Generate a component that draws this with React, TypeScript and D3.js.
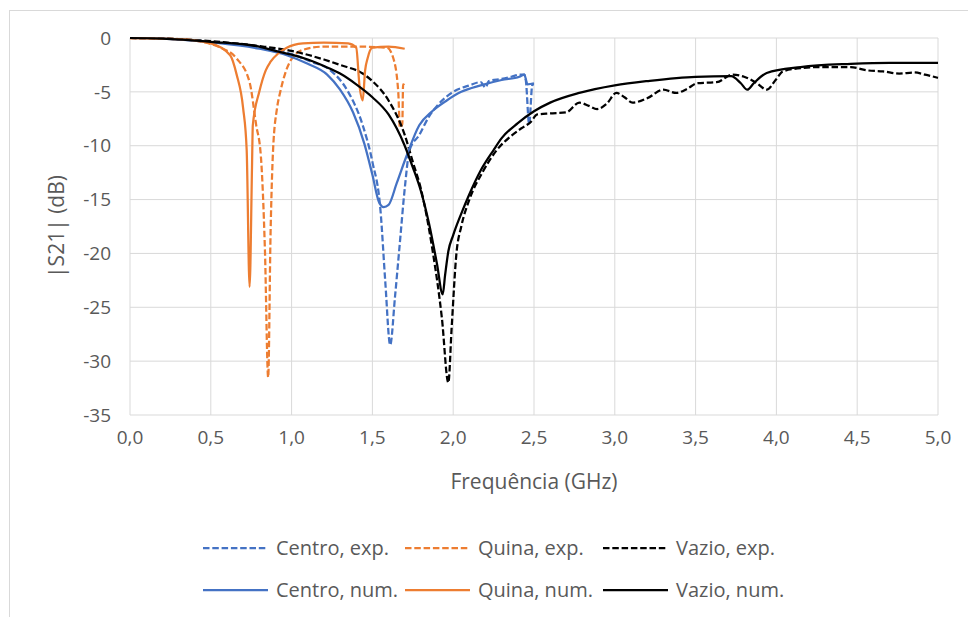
import React from "react";
import * as d3 from "d3";

type Pt = [number, number];

// Frequency (GHz), |S21| (dB)
const centroExp: Pt[] = [
  [0, 0], [0.2, -0.05], [0.5, -0.35], [0.8, -0.9], [1.0, -1.5], [1.12, -2.2], [1.24, -3.0], [1.35, -5.0],
  [1.44, -8.1], [1.5, -11.5], [1.55, -16.0], [1.58, -22.7], [1.61, -28.5], [1.64, -24], [1.67, -19],
  [1.7, -14], [1.73, -10.4], [1.79, -9.0], [1.85, -7.3], [1.9, -6.3], [2.0, -5.0], [2.1, -4.4],
  [2.17, -4.1], [2.2, -4.6], [2.22, -4.0], [2.3, -3.8], [2.36, -3.6], [2.41, -3.4], [2.44, -3.4],
  [2.45, -4.0], [2.47, -8.0], [2.49, -4.3], [2.5, -4.3],
];

const quinaExp: Pt[] = [
  [0, 0], [0.3, -0.1], [0.5, -0.55], [0.56, -0.9], [0.66, -1.9], [0.74, -4.1], [0.78, -8.0],
  [0.81, -11], [0.835, -19.7], [0.855, -31.5], [0.87, -18], [0.885, -10.5], [0.91, -6.5], [0.93, -5.0],
  [0.96, -3.3], [0.99, -2.2], [1.07, -1.1], [1.2, -0.8], [1.4, -0.8], [1.59, -0.9], [1.63, -1.9],
  [1.66, -5.0], [1.67, -8.3], [1.685, -8.0], [1.69, -4.3], [1.7, -4.4],
];

const vazioExp: Pt[] = [
  [0, 0], [0.2, -0.05], [0.5, -0.3], [0.8, -0.75], [1.0, -1.2], [1.2, -2.0], [1.3, -2.5], [1.44, -3.3],
  [1.5, -4.0], [1.6, -5.8], [1.7, -9.0], [1.75, -11.5], [1.8, -14], [1.87, -19.5], [1.93, -26],
  [1.97, -32], [1.99, -27], [2.02, -20], [2.05, -17.5], [2.1, -15], [2.18, -12.5], [2.27, -10.4],
  [2.35, -9.2], [2.42, -8.4], [2.48, -7.8], [2.52, -7.1], [2.6, -7.0], [2.7, -6.9], [2.78, -6.0],
  [2.84, -6.3], [2.89, -6.6], [2.95, -6.1], [3.01, -5.1], [3.06, -5.5], [3.11, -6.0], [3.2, -5.6],
  [3.3, -4.8], [3.38, -5.1], [3.45, -4.7], [3.51, -4.2], [3.63, -4.1], [3.73, -3.4], [3.8, -3.6],
  [3.88, -4.2], [3.94, -4.8], [4.0, -3.8], [4.04, -3.1], [4.15, -2.8], [4.25, -2.7], [4.46, -2.7],
  [4.56, -3.0], [4.66, -3.1], [4.76, -3.3], [4.85, -3.2], [4.92, -3.4], [5.0, -3.7],
];

const centroNum: Pt[] = [
  [0, 0], [0.2, -0.05], [0.5, -0.4], [0.8, -1.0], [0.97, -1.6], [1.1, -2.4], [1.22, -3.4], [1.3, -4.8],
  [1.38, -6.9], [1.45, -9.8], [1.5, -12.7], [1.54, -15.2], [1.57, -15.7], [1.6, -15.5], [1.65, -13.5],
  [1.71, -11.0], [1.79, -8.1], [1.87, -6.8], [1.96, -5.8], [2.05, -5.0], [2.17, -4.4], [2.3, -3.9],
  [2.41, -3.6], [2.44, -3.4], [2.46, -4.3], [2.5, -4.2],
];

const quinaNum: Pt[] = [
  [0, 0], [0.3, -0.1], [0.5, -0.5], [0.62, -1.6], [0.66, -3.4], [0.7, -6.5], [0.722, -10.4],
  [0.74, -23.1], [0.755, -12], [0.76, -8.1], [0.8, -5.0], [0.84, -3.0], [0.87, -2.2], [0.92, -1.4],
  [0.97, -0.9], [1.07, -0.5], [1.2, -0.42], [1.35, -0.5], [1.4, -0.9], [1.42, -4.4], [1.44, -5.8],
  [1.455, -3.0], [1.47, -1.9], [1.5, -0.9], [1.6, -0.8], [1.7, -1.0],
];

const vazioNum: Pt[] = [
  [0, 0], [0.2, -0.05], [0.5, -0.35], [0.8, -0.8], [0.9, -1.2], [1.0, -1.55], [1.1, -2.0], [1.2, -2.6],
  [1.3, -3.3], [1.4, -4.3], [1.5, -5.5], [1.6, -7.1], [1.7, -10.0], [1.75, -12.0], [1.8, -14.2],
  [1.85, -17.2], [1.9, -21], [1.935, -23.8], [1.95, -22], [1.97, -19.8], [2.0, -18.3], [2.05, -16.3],
  [2.1, -14.5], [2.17, -12.3], [2.25, -10.4], [2.3, -9.3], [2.4, -7.9], [2.5, -6.8], [2.6, -6.0],
  [2.78, -5.1], [3.0, -4.4], [3.2, -4.0], [3.5, -3.6], [3.72, -3.55], [3.78, -4.2], [3.82, -4.8],
  [3.86, -4.2], [3.94, -3.25], [4.15, -2.7], [4.46, -2.4], [4.7, -2.3], [5.0, -2.3],
];

const xTicks = [0, 0.5, 1, 1.5, 2, 2.5, 3, 3.5, 4, 4.5, 5];
const yTicks = [0, -5, -10, -15, -20, -25, -30, -35];

const seriesNames = ["Centro, exp.", "Quina, exp.", "Vazio, exp.", "Centro, num.", "Quina, num.", "Vazio, num."];
const seriesData = [centroExp, quinaExp, vazioExp, centroNum, quinaNum, vazioNum];
const seriesColors = ["#4472C4", "#ED7D31", "#000000", "#4472C4", "#ED7D31", "#000000"];
const seriesDashed = [true, true, true, false, false, false];

const W = 968;
const H = 617;
const FONT = "'Open Sans', 'Noto Sans', sans-serif";
const TEXT = "#595959";

export default function App() {
  const x = d3.scaleLinear().domain([0, 5]).range([130, 938]);
  const y = d3.scaleLinear().domain([0, -35]).range([38, 415]);
  const line = d3
    .line<Pt>()
    .x((d) => x(d[0]))
    .y((d) => y(d[1]))
    .curve(d3.curveMonotoneX);

  const fmt = (v: number) => v.toFixed(1).replace(".", ",");

  const legendCols = [203, 405, 603];
  const legendRows = [548, 590];

  return (
    <svg
      width={W}
      height={H}
      style={{ position: "absolute", left: 0, top: 0, background: "#fff" }}
      fontFamily={FONT}
    >
      <rect x={0} y={0} width={W} height={H} fill="#fff" />
      <rect x={9.5} y={10.5} width={W + 20} height={H + 20} fill="none" stroke="#d9d9d9" strokeWidth={1} />
      {/* gridlines */}
      {yTicks.map((t) => (
        <line key={"gy" + t} x1={x(0)} x2={x(5)} y1={y(t)} y2={y(t)} stroke="#d9d9d9" strokeWidth={1} />
      ))}
      {xTicks.map((t) => (
        <line key={"gx" + t} x1={x(t)} x2={x(t)} y1={y(0)} y2={y(-35)} stroke="#d9d9d9" strokeWidth={1} />
      ))}
      {/* tick labels */}
      {yTicks.map((t) => (
        <text key={"ty" + t} x={111} y={y(t)} dy="0.35em" textAnchor="end" fontSize={19} fill={TEXT}>
          {t}
        </text>
      ))}
      {xTicks.map((t) => (
        <text key={"tx" + t} x={x(t)} y={444} textAnchor="middle" fontSize={19} fill={TEXT}>
          {fmt(t)}
        </text>
      ))}
      {/* axis titles */}
      <text x={534} y={489} textAnchor="middle" fontSize={21} fill={TEXT}>
        Frequência (GHz)
      </text>
      <text
        transform={`translate(57, ${(y(0) + y(-35)) / 2}) rotate(-90)`}
        textAnchor="middle"
        dy="0.35em"
        fontSize={21}
        fill={TEXT}
      >
        |S21| (dB)
      </text>
      {/* series */}
      {seriesData.map((data, i) => (
        <path
          key={"s" + i}
          d={line(data) || ""}
          fill="none"
          stroke={seriesColors[i]}
          strokeWidth={2.25}
          strokeDasharray={seriesDashed[i] ? "6.5,2.8" : undefined}
          strokeLinejoin="round"
        />
      ))}
      {/* legend */}
      {seriesNames.map((name, i) => {
        const col = i % 3;
        const row = Math.floor(i / 3);
        const lx = legendCols[col];
        const ly = legendRows[row];
        return (
          <g key={"l" + i}>
            <line
              x1={lx}
              x2={lx + 65}
              y1={ly}
              y2={ly}
              stroke={seriesColors[i]}
              strokeWidth={2.25}
              strokeDasharray={seriesDashed[i] ? "6.5,2.8" : undefined}
            />
            <text x={lx + 73} y={ly} dy="0.35em" fontSize={20} fill={TEXT}>
              {name}
            </text>
          </g>
        );
      })}
    </svg>
  );
}
